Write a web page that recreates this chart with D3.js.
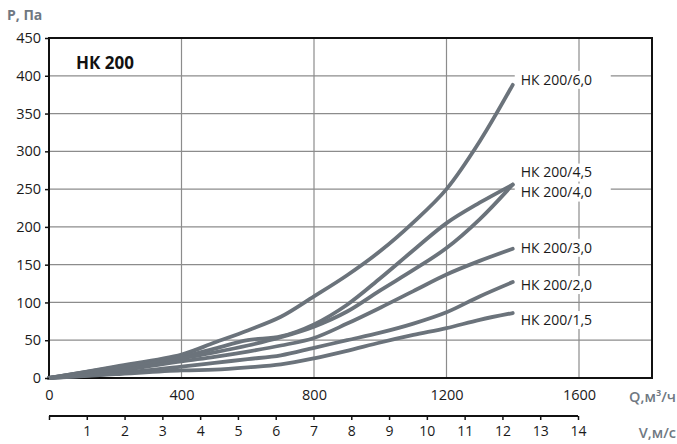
<!DOCTYPE html>
<html><head><meta charset="utf-8">
<script src="https://cdn.jsdelivr.net/npm/d3@7"></script>
<style>body{margin:0;background:#fff}svg{display:block}text{font-family:"Open Sans",sans-serif}</style>
</head><body><svg id="c" width="677" height="444"></svg>
<script>
const flow = [0,200,400,500,600,700,800,900,1000,1100,1200,1300,1400];
const s60 = [0,15,31,47,63,81,108,136,168,206,250,313,388];
const s45 = [0,14,28,39,50,55,71,97,132,169,205,232,256];
const s40 = [0,13,26,34,43,54,68,88,116,143,172,210,256];
const s30 = [0,9,22,28,35,43,53,72,93,115,137,155,171];
const s20 = [0,6,15,20,25,30,40,50,60,72,87,108,127];
const s15 = [0,5,10,11,14,18,26,36,47,57,66,77,86];
const seriesNames = ["НК 200/6,0","НК 200/4,5","НК 200/4,0","НК 200/3,0","НК 200/2,0","НК 200/1,5"];
const seriesValues = [s60,s45,s40,s30,s20,s15];
const qTicks = [0,400,800,1200,1600];
const pTicks = [0,50,100,150,200,250,300,350,400,450];
const vTicks = [0,1,2,3,4,5,6,7,8,9,10,11,12,13,14];
const title = "НК 200";

const svg = d3.select("#c");
const L=49, R=579, T=38, B=378, frameR=652;
const x = d3.scaleLinear().domain([0,1600]).range([L,R]);
const y = d3.scaleLinear().domain([0,450]).range([B,T]);
const v = d3.scaleLinear().domain([0,14]).range([L,578]);
const lineCol = "#6b737b";

svg.append("g").selectAll("line").data(pTicks.filter(d=>d>0&&d<450)).join("line")
  .attr("x1",L).attr("x2",frameR).attr("y1",d=>y(d)).attr("y2",d=>y(d))
  .attr("stroke","#8c8c8c").attr("stroke-width",1.2);
svg.append("g").selectAll("line").data(qTicks.filter(d=>d>0)).join("line")
  .attr("x1",d=>x(d)).attr("x2",d=>x(d)).attr("y1",T).attr("y2",B)
  .attr("stroke","#8c8c8c").attr("stroke-width",1.2);

const labelDy = [-5,-12,8,-1,3,7];
const lblX = x(1400)+8;
seriesNames.forEach((n,i)=>{
  const yy = y(seriesValues[i][seriesValues[i].length-1])+labelDy[i];
  svg.append("rect").attr("x",lblX-6).attr("y",yy-9).attr("width",96).attr("height",18).attr("fill","#fff");
});

svg.append("rect").attr("x",L).attr("y",T).attr("width",frameR-L).attr("height",B-T)
  .attr("fill","none").attr("stroke","#111").attr("stroke-width",2);

const line = d3.line().x((d,i)=>x(flow[i])).y(d=>y(d)).curve(d3.curveCatmullRom.alpha(0.5));
svg.append("g").selectAll("path").data(seriesValues).join("path")
  .attr("d",line).attr("fill","none").attr("stroke",lineCol).attr("stroke-width",3.8)
  .attr("stroke-linecap","round").attr("stroke-linejoin","round");

seriesNames.forEach((n,i)=>{
  const yy = y(seriesValues[i][seriesValues[i].length-1])+labelDy[i];
  svg.append("text").attr("x",lblX).attr("y",yy).attr("dy","0.35em")
    .attr("font-size",14).attr("fill","#1a1a1a").text(n);
});

const ya = svg.append("g").attr("transform",`translate(${L},0)`)
  .call(d3.axisLeft(y).tickValues(pTicks).tickSize(4).tickPadding(4).tickFormat(d3.format("d")));
ya.select(".domain").remove();
ya.selectAll("line").attr("stroke","#111").attr("stroke-width",1.5);
ya.selectAll("text").attr("font-size",14.5).attr("fill","#1a1a1a").attr("font-family","Open Sans");

const xa = svg.append("g").attr("transform",`translate(0,${B})`)
  .call(d3.axisBottom(x).tickValues(qTicks).tickSize(0).tickPadding(12).tickFormat(d3.format("d")));
xa.select(".domain").remove();
xa.selectAll("text").attr("font-size",14.5).attr("fill","#1a1a1a").attr("font-family","Open Sans");

const va = svg.append("g").attr("transform",`translate(0,416)`)
  .call(d3.axisBottom(v).tickValues(vTicks).tickSize(4).tickPadding(6).tickFormat(d=>d===0?"":d));
va.select(".domain").attr("stroke","#111").attr("stroke-width",2).attr("d",`M${v(0)},0H${v(14)}`);
va.selectAll("line").attr("stroke","#111").attr("stroke-width",1.5);
va.selectAll("text").attr("font-size",14).attr("fill","#1a1a1a").attr("font-family","Open Sans");

svg.append("text").attr("x",76).attr("y",63).attr("dy","0.35em").attr("font-size",17)
  .attr("font-weight","bold").attr("fill","#111").text(title);
svg.append("text").attr("x",7).attr("y",15).attr("dy","0.35em").attr("font-size",14)
  .attr("font-weight","bold").attr("fill","#6f7882").text("P, Па");
svg.append("text").attr("x",676).attr("y",397).attr("dy","0.35em").attr("text-anchor","end").attr("font-size",14.5)
  .attr("font-weight","600").attr("fill","#6f7882").text("Q,м³/ч");
svg.append("text").attr("x",676).attr("y",433).attr("dy","0.35em").attr("text-anchor","end").attr("font-size",14.5)
  .attr("font-weight","600").attr("fill","#6f7882").text("V,м/с");
</script></body></html>
